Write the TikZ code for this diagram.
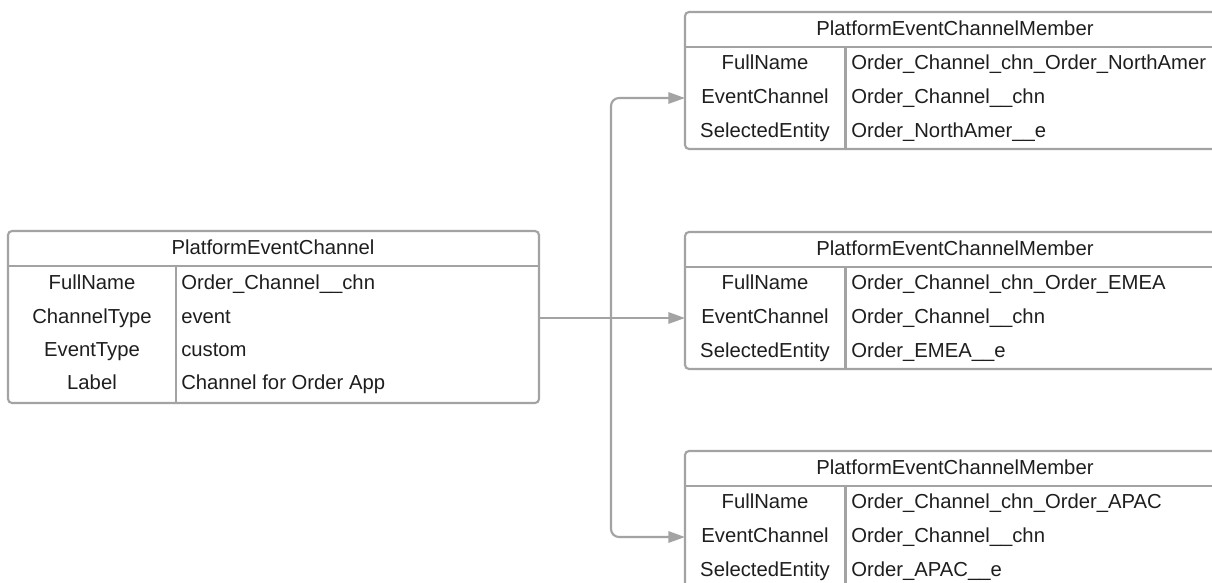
\documentclass[tikz,border=0pt]{standalone}
\usepackage{fontspec}
\setmainfont{Liberation Sans}
\usetikzlibrary{arrows.meta}
\definecolor{bordergray}{HTML}{A3A3A3}
\definecolor{txt}{HTML}{1E1E1E}
\tikzset{
  box/.style={draw=bordergray, line width=1.6pt, rounded corners=3pt},
  sep/.style={draw=bordergray, line width=1.6pt},
  lbl/.style={text=txt, inner sep=0pt, anchor=base, font=\fontsize{15.2}{18}\selectfont},
  val/.style={text=txt, inner sep=0pt, anchor=base west, font=\fontsize{15.2}{18}\selectfont},
  conn/.style={draw=bordergray, line width=1.6pt, rounded corners=6pt, -{Triangle[length=12.5pt,width=8.5pt]}},
}
\begin{document}
\begin{tikzpicture}[x=0.75pt,y=-0.75pt]
\useasboundingbox (0,0) rectangle (1212,582);
\begin{scope}
\clip (0,0) rectangle (1212,582);
% ---------- Left box ----------
\draw[box] (8,231) rectangle (539,403);
\node[inner sep=0pt, minimum width=0pt] (pec) at (539,318) {};
\draw[sep] (8,266) -- (539,266);
\draw[sep] (176,266) -- (176,403);
\node[lbl] (pecT) at (273,254) {PlatformEventChannel};
\node[lbl] (pecL1) at (92,289) {FullName};
\node[lbl] (pecL2) at (92,323) {ChannelType};
\node[lbl] (pecL3) at (92,356) {EventType};
\node[lbl] (pecL4) at (92,389) {Label};
\node[val] (pecV1) at (181,289) {Order\_Channel\_\_chn};
\node[val] (pecV2) at (181,323) {event};
\node[val] (pecV3) at (181,356) {custom};
\node[val] (pecV4) at (181,389) {Channel for Order App};
% ---------- Member boxes ----------
\foreach \n/\t/\fn/\se in {
  a/12/Order\_Channel\_chn\_Order\_NorthAmer/Order\_NorthAmer\_\_e,
  b/232/Order\_Channel\_chn\_Order\_EMEA/Order\_EMEA\_\_e,
  c/451/Order\_Channel\_chn\_Order\_APAC/Order\_APAC\_\_e}{
  \draw[box] (685,\t) rectangle (1225,\t+137);
  \draw[sep] (685,\t+35) -- (1225,\t+35);
  \draw[sep] (845.5,\t+35) -- (845.5,\t+137);
  \node[lbl] (m\n T) at (955,\t+23) {PlatformEventChannelMember};
  \node[lbl] (m\n L1) at (765,\t+57) {FullName};
  \node[lbl] (m\n L2) at (765,\t+91) {EventChannel};
  \node[lbl] (m\n L3) at (765,\t+125) {SelectedEntity};
  \node[val] (m\n V1) at (851,\t+57) {\fn};
  \node[val] (m\n V2) at (851,\t+91) {Order\_Channel\_\_chn};
  \node[val] (m\n V3) at (851,\t+125) {\se};
  \coordinate (m\n in) at (685,\t+86);
}
\end{scope}
% ---------- Connectors ----------
\coordinate (jn) at (611,318);
\draw[conn] (pec.center) -- (mbin);
\draw[conn] (jn) |- (main);
\draw[conn] (jn) |- (mcin);
\end{tikzpicture}
\end{document}
